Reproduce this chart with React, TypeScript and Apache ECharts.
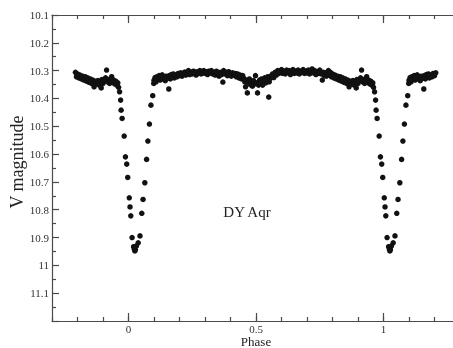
import React, { useEffect, useRef } from "react";
import * as echarts from "echarts";

// Phase-folded light curve of DY Aqr, phases in [0, 1)
const baselinePhase = [
  0.099, 0.100, 0.104, 0.108, 0.112, 0.116, 0.120, 0.124, 0.128, 0.132, 0.136, 0.140, 0.144, 0.148, 0.152, 0.158,
  0.160, 0.164, 0.168, 0.172, 0.176, 0.180, 0.185, 0.190, 0.195, 0.200, 0.205, 0.210, 0.215, 0.220, 0.225,
  0.230, 0.235, 0.240, 0.245, 0.250, 0.255, 0.260, 0.265, 0.270, 0.275, 0.280, 0.285, 0.290, 0.295, 0.300,
  0.305, 0.310, 0.315, 0.320, 0.325, 0.330, 0.335, 0.340, 0.345, 0.350, 0.355, 0.360, 0.365, 0.370, 0.373,
  0.378, 0.383, 0.388, 0.393, 0.398, 0.403, 0.408, 0.413, 0.418, 0.423, 0.428, 0.433, 0.438, 0.443, 0.448,
  0.452, 0.456, 0.459, 0.462, 0.466, 0.470, 0.474, 0.478, 0.482, 0.486, 0.490, 0.494, 0.498, 0.502, 0.506,
  0.510, 0.514, 0.518, 0.522, 0.526, 0.530, 0.534, 0.538, 0.542, 0.546, 0.550, 0.552, 0.556, 0.560, 0.565,
  0.570, 0.575, 0.580, 0.585, 0.590, 0.595, 0.600, 0.605, 0.610, 0.615, 0.620, 0.625, 0.630, 0.635, 0.640,
  0.645, 0.650, 0.655, 0.660, 0.665, 0.670, 0.675, 0.680, 0.685, 0.690, 0.695, 0.700, 0.705, 0.710, 0.715,
  0.720, 0.725, 0.730, 0.735, 0.740, 0.745, 0.750, 0.755, 0.760, 0.764, 0.768, 0.772, 0.776, 0.780, 0.784,
  0.788, 0.792, 0.796, 0.800, 0.805, 0.810, 0.815, 0.820, 0.825, 0.830, 0.835, 0.840, 0.845, 0.850, 0.855,
  0.860, 0.865, 0.870, 0.875, 0.880, 0.885, 0.890, 0.893, 0.895, 0.900, 0.905, 0.910, 0.914, 0.918, 0.922,
  0.926, 0.930, 0.934, 0.938, 0.942, 0.946, 0.950, 0.954, 0.958, 0.961,
];
const baselineMag = [
  10.346, 10.335, 10.325, 10.340, 10.322, 10.330, 10.318, 10.334, 10.326, 10.315, 10.330, 10.322, 10.336, 10.320, 10.328, 10.366,
  10.318, 10.330, 10.314, 10.324, 10.312, 10.326, 10.316, 10.322, 10.310, 10.318, 10.308, 10.320, 10.312, 10.305, 10.316,
  10.308, 10.300, 10.314, 10.305, 10.312, 10.302, 10.310, 10.316, 10.304, 10.310, 10.300, 10.312, 10.306, 10.300, 10.310,
  10.304, 10.314, 10.302, 10.308, 10.300, 10.312, 10.306, 10.316, 10.302, 10.310, 10.320, 10.306, 10.314, 10.341, 10.300,
  10.312, 10.306, 10.318, 10.304, 10.312, 10.320, 10.308, 10.316, 10.310, 10.322, 10.312, 10.326, 10.316, 10.330, 10.318,
  10.328, 10.340, 10.358, 10.334, 10.380, 10.344, 10.330, 10.350, 10.340, 10.356, 10.336, 10.348, 10.318, 10.344, 10.380,
  10.352, 10.334, 10.346, 10.330, 10.352, 10.338, 10.326, 10.344, 10.334, 10.322, 10.395, 10.340, 10.328, 10.318, 10.312,
  10.325, 10.306, 10.316, 10.300, 10.310, 10.304, 10.296, 10.310, 10.302, 10.312, 10.298, 10.306, 10.300, 10.314, 10.304,
  10.296, 10.310, 10.302, 10.308, 10.298, 10.312, 10.302, 10.306, 10.296, 10.310, 10.302, 10.308, 10.298, 10.312, 10.304,
  10.294, 10.308, 10.300, 10.314, 10.304, 10.310, 10.298, 10.312, 10.334, 10.306, 10.318, 10.308, 10.320, 10.310, 10.300,
  10.316, 10.306, 10.322, 10.312, 10.326, 10.316, 10.330, 10.320, 10.334, 10.322, 10.338, 10.326, 10.342, 10.330, 10.346,
  10.334, 10.358, 10.338, 10.348, 10.336, 10.352, 10.340, 10.362, 10.332, 10.346, 10.336, 10.326, 10.298, 10.340, 10.332,
  10.346, 10.336, 10.322, 10.342, 10.334, 10.348, 10.338, 10.352, 10.344, 10.360,
];
const eclipsePhase = [
  0.965, 0.969, 0.971, 0.975, 0.983, 0.988, 0.993, 0.997, 0.003, 0.006, 0.009, 0.014, 0.020, 0.023, 0.025,
  0.027, 0.031, 0.038, 0.045, 0.052, 0.057, 0.064, 0.071, 0.076, 0.082, 0.088, 0.095,
];
const eclipseMag = [
  10.376, 10.406, 10.442, 10.472, 10.535, 10.610, 10.636, 10.684, 10.757, 10.790, 10.822, 10.900, 10.933, 10.942, 10.948,
  10.943, 10.930, 10.919, 10.894, 10.813, 10.763, 10.703, 10.619, 10.553, 10.492, 10.424, 10.390,
];
const xLabelValues = [0, 0.5, 1];
const xLabels = ["0", "0.5", "1"];
const title = "DY Aqr";
const xName = "Phase";
const yName = "V magnitude";

const FONT = "'Liberation Serif', 'Times New Roman', serif";
const AXIS_COLOR = "#4a4a4a";

export default function App() {
  const ref = useRef<HTMLDivElement>(null);
  useEffect(() => {
    if (!ref.current) return;
    const chart = echarts.init(ref.current, null, { renderer: "svg" });
    const pts: number[][] = [];
    const add = (p: number, m: number) => {
      pts.push([p, m]);
      if (p >= 0.79) pts.push([p - 1, m]);
      if (p < 0.21) pts.push([p + 1, m]);
    };
    baselinePhase.forEach((p, i) => add(p, baselineMag[i]));
    eclipsePhase.forEach((p, i) => add(p, eclipseMag[i]));

    const lineStyle = { color: AXIS_COLOR, width: 1.2 };
    const baseX = {
      type: "value" as const,
      min: -0.3,
      max: 1.3,
      splitLine: { show: false },
    };
    chart.setOption({
      animation: false,
      grid: { left: 52, top: 15, right: -7, bottom: 27, containLabel: false, outerBoundsMode: "none" },
      xAxis: [
        {
          ...baseX,
          position: "bottom",
          interval: 0.1,
          axisLine: { show: true, onZero: false, lineStyle },
          axisTick: { show: true, inside: true, length: 4, lineStyle },
          axisLabel: { show: false },
        },
        {
          ...baseX,
          position: "bottom",
          axisLine: { show: false, onZero: false },
          axisTick: { show: true, inside: true, length: 8, lineStyle, customValues: xLabelValues },
          axisLabel: {
            show: true,
            customValues: xLabelValues,
            margin: 2,
            fontFamily: FONT,
            fontSize: 11,
            color: "#333",
            formatter: (v: number) => {
              const i = xLabelValues.findIndex((x) => Math.abs(x - v) < 1e-6);
              return i >= 0 ? xLabels[i] : "";
            },
          },
        },
        {
          ...baseX,
          position: "top",
          interval: 0.1,
          axisLine: { show: true, onZero: false, lineStyle },
          axisTick: { show: true, inside: true, length: 4, lineStyle },
          axisLabel: { show: false },
        },
        {
          ...baseX,
          position: "top",
          axisLine: { show: false, onZero: false },
          axisTick: { show: true, inside: true, length: 8, lineStyle, customValues: xLabelValues },
          axisLabel: { show: false },
        },
      ],
      yAxis: {
        type: "value",
        inverse: true,
        min: 10.1,
        max: 11.2,
        interval: 0.1,
        splitLine: { show: false },
        axisLine: { show: true, onZero: false, lineStyle },
        axisTick: { show: true, inside: true, length: 7, lineStyle },
        minorTick: { show: true, splitNumber: 2, length: 4, lineStyle },
        minorSplitLine: { show: false },
        axisLabel: {
          margin: 3,
          fontFamily: FONT,
          fontSize: 11,
          color: "#333",
          formatter: (v: number) => (v > 11.15 ? "" : String(Number(v.toFixed(2)))),
        },
      },
      graphic: [
        {
          type: "text",
          x: 17,
          y: 162,
          rotation: Math.PI / 2,
          style: { text: yName, fontSize: 18, fontFamily: FONT, fill: "#222", align: "center", verticalAlign: "middle" },
        },
        {
          type: "text",
          x: 256,
          y: 341,
          style: { text: xName, fontSize: 13, fontFamily: FONT, fill: "#222", align: "center", verticalAlign: "middle" },
        },
        {
          type: "text",
          x: 247,
          y: 212,
          style: { text: title, fontSize: 15, fontFamily: FONT, fill: "#222", align: "center", verticalAlign: "middle" },
        },
      ],
      series: [
        {
          type: "scatter",
          xAxisIndex: 0,
          yAxisIndex: 0,
          data: pts,
          symbol: "circle",
          symbolSize: 5.5,
          itemStyle: { color: "#111", opacity: 1 },
          silent: true,
        },
      ],
    });
    return () => chart.dispose();
  }, []);
  return <div ref={ref} style={{ position: "fixed", left: 0, top: 0, width: 453, height: 348 }} />;
}
